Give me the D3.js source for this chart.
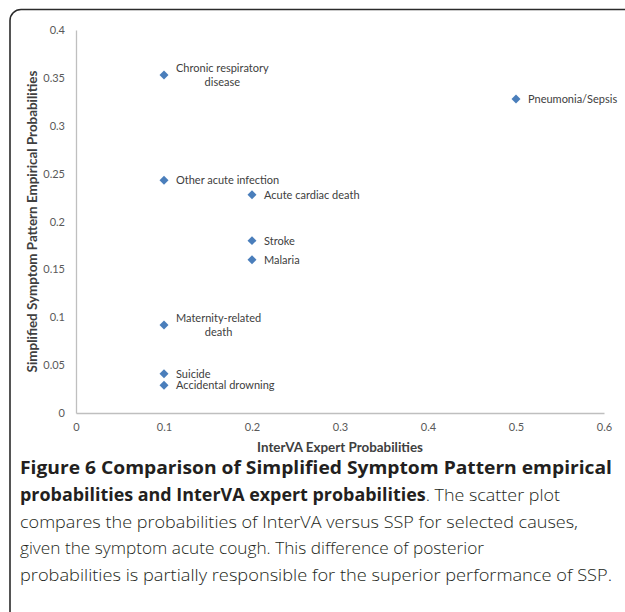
<!DOCTYPE html>
<head>
  <meta charset="utf-8">
  <style>
  body { margin: 0; background: #fff; }
  text { font-family: Lato, 'Open Sans', sans-serif; }
  .tick text { fill: #595959; font-size: 11px; }
  .point-label { fill: #404040; font-size: 11px; }
  .axis-title { fill: #404040; font-size: 13.4px; font-weight: bold; }
  .caption { font-family: 'Open Sans', sans-serif; font-size: 17px; fill: #231f20; font-weight: 300; }
  .caption .bold { font-weight: 700; }
  </style>
</head>
<body>
  <svg id="chart"></svg>
  <script src="https://d3js.org/d3.v7.min.js"></script>
  <script>

  var width = 625,
      height = 612;

  // causes and their probabilities (InterVA vs SSP)
  var causes = ['Chronic respiratory disease', 'Pneumonia/Sepsis', 'Other acute infection',
    'Acute cardiac death', 'Stroke', 'Malaria', 'Maternity-related death', 'Suicide',
    'Accidental drowning'];
  var interva = [0.1, 0.5, 0.1, 0.2, 0.2, 0.2, 0.1, 0.1, 0.1];
  var ssp = [0.353, 0.328, 0.243, 0.228, 0.18, 0.16, 0.092, 0.041, 0.029];
  // wrapped labels (Excel wraps the long ones)
  var labelLines = [['Chronic respiratory', 'disease'], ['Pneumonia/Sepsis'], ['Other acute infection'],
    ['Acute cardiac death'], ['Stroke'], ['Malaria'], ['Maternity-related', 'death'], ['Suicide'],
    ['Accidental drowning']];

  var xTicks = [0, 0.1, 0.2, 0.3, 0.4, 0.5, 0.6];
  var yTicks = [0, 0.05, 0.1, 0.15, 0.2, 0.25, 0.3, 0.35, 0.4];

  var xTitle = 'InterVA Expert Probabilities';
  var yTitle = 'Simplified Symptom Pattern Empirical Probabilities';

  // caption: [bold part, normal part]
  var captionLines = [
    ['Figure 6 Comparison of Simplified Symptom Pattern empirical', ''],
    ['probabilities and InterVA expert probabilities', '. The scatter plot'],
    ['', 'compares the probabilities of InterVA versus SSP for selected causes,'],
    ['', 'given the symptom acute cough. This difference of posterior'],
    ['', 'probabilities is partially responsible for the superior performance of SSP.']
  ];
  var captionWidths = [592, 540, 558, 464, 592];

  var svg = d3.select('#chart')
    .attr('width', width)
    .attr('height', height);

  // frame with rounded corner, running off the right / bottom
  svg.append('rect')
    .attr('x', 10)
    .attr('y', 9.5)
    .attr('width', 660)
    .attr('height', 640)
    .attr('rx', 11)
    .attr('fill', 'none')
    .attr('stroke', '#2b2b2b')
    .attr('stroke-width', 1.6);

  var x = d3.scaleLinear()
    .domain([0, 0.6])
    .range([76, 604]);

  var y = d3.scaleLinear()
    .domain([0, 0.4])
    .range([413, 30]);

  // axes
  svg.append('g')
    .attr('transform', 'translate(0,' + y(0) + ')')
    .call(d3.axisBottom(x).tickValues(xTicks).tickSize(0).tickPadding(10)
      .tickFormat(function(d) { return d3.format('')(+d.toFixed(2)); }));

  svg.append('g')
    .attr('transform', 'translate(' + x(0) + ',0)')
    .call(d3.axisLeft(y).tickValues(yTicks).tickSize(0).tickPadding(11)
      .tickFormat(function(d) { return d3.format('')(+d.toFixed(2)); }));

  svg.selectAll('.domain')
    .attr('stroke', '#bfbfbf')
    .attr('stroke-width', 1.3);
  svg.selectAll('.tick text').attr('font-family', null).attr('font-size', null);

  // axis titles
  svg.append('text')
    .attr('class', 'axis-title')
    .attr('x', (x(0) + x(0.6)) / 2)
    .attr('y', 452)
    .attr('text-anchor', 'middle')
    .text(xTitle);

  svg.append('text')
    .attr('class', 'axis-title')
    .attr('transform', 'translate(37,' + (y(0) + y(0.4)) / 2 + ') rotate(-90)')
    .attr('text-anchor', 'middle')
    .text(yTitle);

  var points = causes.map(function(c, i) {
    return { name: c, x: interva[i], y: ssp[i], lines: labelLines[i] };
  });

  // diamond markers
  var diamond = d3.symbol().type(d3.symbolSquare).size(40);
  svg.selectAll('.pt')
    .data(points)
    .enter().append('path')
      .attr('class', 'pt')
      .attr('d', diamond)
      .attr('fill', '#4a7ebb')
      .attr('transform', function(d) {
        return 'translate(' + x(d.x) + ',' + y(d.y) + ') rotate(45)';
      });

  // point labels
  var labels = svg.selectAll('.point-label')
    .data(points)
    .enter().append('text')
      .attr('class', 'point-label');

  labels.each(function(d) {
    var t = d3.select(this);
    var px = x(d.x), py = y(d.y);
    if (d.lines.length === 1) {
      t.append('tspan')
        .attr('x', px + 12)
        .attr('y', py + 4)
        .text(d.lines[0]);
    } else {
      // centred block, measured off the first line
      var first = t.append('tspan').attr('x', px + 12).attr('y', py - 3).text(d.lines[0]);
      var w = this.getComputedTextLength();
      var cx = px + 12 + w / 2;
      first.attr('x', cx).attr('text-anchor', 'middle');
      t.append('tspan')
        .attr('x', cx)
        .attr('y', py + 11)
        .attr('text-anchor', 'middle')
        .text(d.lines[1]);
    }
  });

  // caption
  var cap = svg.append('g');
  captionLines.forEach(function(line, i) {
    var t = cap.append('text')
      .attr('class', 'caption')
      .attr('x', 20)
      .attr('y', 474 + i * 26.8)
      .attr('textLength', captionWidths[i])
      .attr('lengthAdjust', 'spacingAndGlyphs');
    if (line[0]) t.append('tspan').attr('class', 'bold').text(line[0]);
    if (line[1]) t.append('tspan').text(line[1]);
  });

  </script>
</body>
